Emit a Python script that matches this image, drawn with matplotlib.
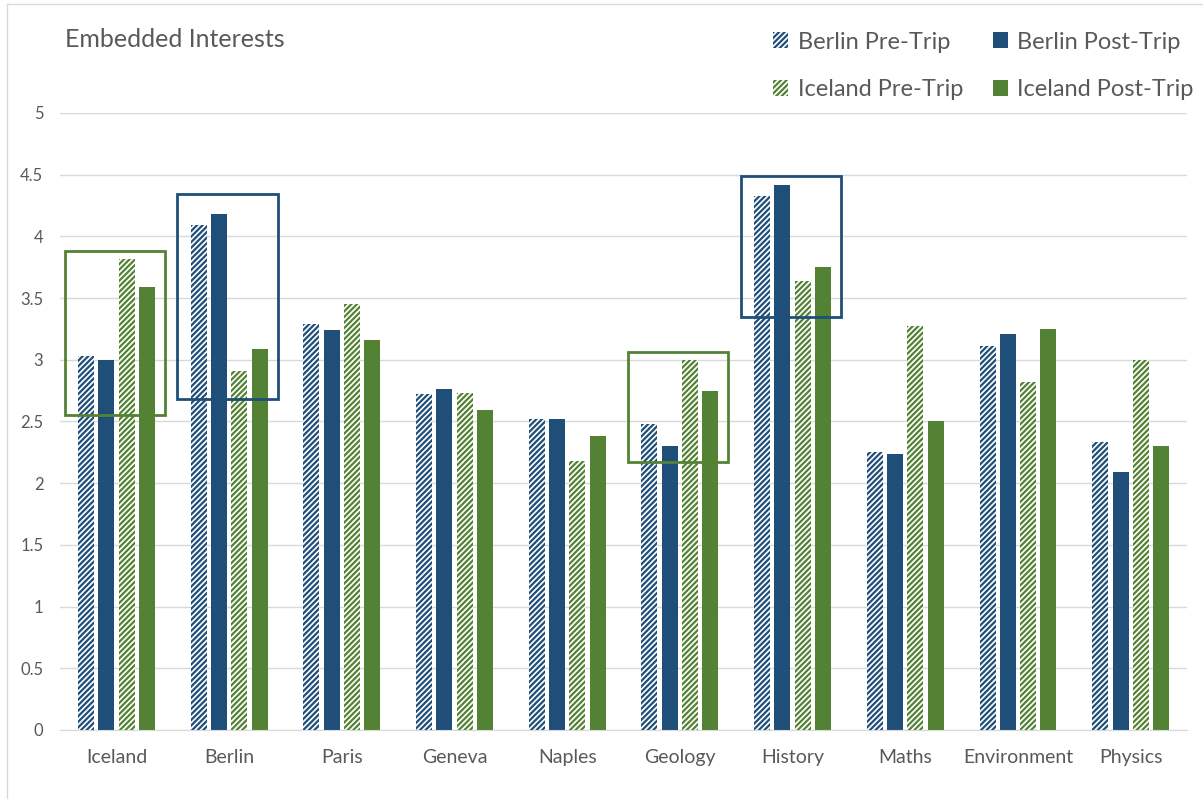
import numpy as np
import matplotlib.pyplot as plt
from matplotlib.patches import Rectangle
from matplotlib.lines import Line2D

plt.rcParams['font.family'] = ['Lato', 'DejaVu Sans']
plt.rcParams['hatch.linewidth'] = 1.6

categories = ["Iceland", "Berlin", "Paris", "Geneva", "Naples",
              "Geology", "History", "Maths", "Environment", "Physics"]
berlin_pre = [3.03, 4.09, 3.29, 2.72, 2.52, 2.48, 4.33, 2.25, 3.11, 2.33]
berlin_post = [3.00, 4.18, 3.24, 2.76, 2.52, 2.30, 4.42, 2.24, 3.21, 2.09]
iceland_pre = [3.82, 2.91, 3.45, 2.73, 2.18, 3.00, 3.64, 3.27, 2.82, 3.00]
iceland_post = [3.59, 3.09, 3.16, 2.59, 2.38, 2.75, 3.75, 2.50, 3.25, 2.30]

# highlighted groups: (category index, y bottom, y top, colour key)
highlights = [(0, 2.55, 3.88, "green"), (1, 2.68, 4.34, "blue"),
              (5, 2.17, 3.06, "green"), (6, 3.35, 4.49, "blue")]

BLUE = "#1F4E79"
GREEN = "#548235"
TEXT = "#595959"
colours = {"blue": BLUE, "green": GREEN}

fig = plt.figure(figsize=(12.03, 7.99), dpi=100)
ax = fig.add_axes([0.0499, 0.0864, 0.9368, 0.7722])

x = np.arange(len(categories))
step = 0.18
width = 0.142
series = [
    (berlin_pre, BLUE, True, "Berlin Pre-Trip"),
    (berlin_post, BLUE, False, "Berlin Post-Trip"),
    (iceland_pre, GREEN, True, "Iceland Pre-Trip"),
    (iceland_post, GREEN, False, "Iceland Post-Trip"),
]
handles = []
for i, (vals, col, hatched, label) in enumerate(series):
    offs = (i - 1.5) * step
    if hatched:
        b = ax.bar(x + offs, vals, width, facecolor="white", edgecolor=col,
                   hatch="//////", linewidth=0, label=label, zorder=2)
    else:
        b = ax.bar(x + offs, vals, width, color=col, linewidth=0,
                   label=label, zorder=2)
    handles.append(b)

for idx, lo, hi, key in highlights:
    ax.add_patch(Rectangle((idx - 0.46, lo), 0.89, hi - lo, fill=False,
                           edgecolor=colours[key], linewidth=2.0, zorder=3))

ax.set_xlim(-0.5, len(categories) - 0.5)
ax.set_ylim(0, 5)
ax.set_yticks(np.arange(0, 5.01, 0.5))
ax.set_yticklabels(["0", "0.5", "1", "1.5", "2", "2.5", "3", "3.5", "4", "4.5", "5"])
ax.set_xticks(x)
ax.set_xticklabels(categories)
ax.yaxis.grid(True, color="#D9D9D9", linewidth=1.0, zorder=0)
ax.set_axisbelow(True)
for s in ["top", "right", "left"]:
    ax.spines[s].set_visible(False)
ax.spines["bottom"].set_color("#D9D9D9")
ax.tick_params(axis="both", length=0, colors=TEXT)
ax.tick_params(axis="y", labelsize=12, pad=12)
ax.tick_params(axis="x", labelsize=14, pad=14)

fig.text(0.054, 0.951, "Embedded Interests", fontsize=18, color=TEXT,
         va="center", ha="left")

# legend fills row by row: Berlin on the top row, Iceland below
order = [0, 2, 1, 3]
leg = fig.legend(handles=[handles[k] for k in order],
                 labels=[series[k][3] for k in order],
                 loc="upper right", ncol=2,
                 bbox_to_anchor=(1.01, 0.987), frameon=False,
                 fontsize=17, handlelength=0.65, handleheight=0.65,
                 handletextpad=0.4, columnspacing=1.25, labelspacing=1.12)
for t in leg.get_texts():
    t.set_color(TEXT)

# chart frame, left and top edges
fig.lines.append(Line2D([7 / 1203, 7 / 1203], [0, 1 - 4 / 799],
                        transform=fig.transFigure, color="#D9D9D9", linewidth=1))
fig.lines.append(Line2D([7 / 1203, 1], [1 - 4 / 799, 1 - 4 / 799],
                        transform=fig.transFigure, color="#D9D9D9", linewidth=1))

fig.savefig("out.png", dpi=100)
